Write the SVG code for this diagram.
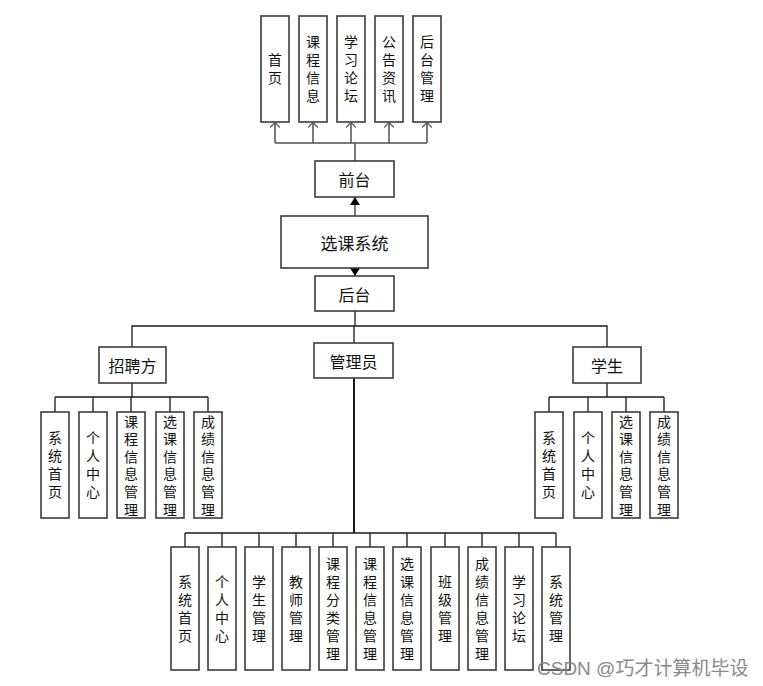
<svg xmlns="http://www.w3.org/2000/svg" width="763" height="686" viewBox="0 0 763 686">
<style>
.box{fill:#fff;stroke:#3c3c3c;stroke-width:1.6}
.t{font-family:"Noto Sans CJK SC","Noto Sans",sans-serif;fill:#111;text-anchor:middle;dominant-baseline:central}
.v{font-family:"Noto Sans CJK SC","Noto Sans",sans-serif;fill:#111;font-size:14px;writing-mode:vertical-rl;text-orientation:upright;letter-spacing:4px;text-anchor:middle}
.h{font-size:16px}
.line{fill:none;stroke:#1a1a1a;stroke-width:1.3}
.gline{fill:none;stroke:#505050;stroke-width:1.5}
.wm{font-family:"Liberation Sans","Noto Sans CJK SC",sans-serif;font-size:19px;fill:#8a8a8a}
</style>
<defs>
<marker id="open" viewBox="0 0 5 10" refX="5" refY="5" markerWidth="5" markerHeight="10" markerUnits="userSpaceOnUse" orient="auto">
<path d="M0,0 L5,5 L0,10" fill="none" stroke="#505050" stroke-width="1.2"/>
</marker>
<marker id="fill" viewBox="0 0 8 10" refX="8" refY="5" markerWidth="8" markerHeight="10" markerUnits="userSpaceOnUse" orient="auto">
<path d="M0,0 L8,5 L0,10 z" fill="#000"/>
</marker>
</defs>
<rect width="763" height="686" fill="#fff"/>

<g id="connectors">
<path class="gline" d="M355,161 V143 M275,143 H427"/>
<path class="gline" d="M275,143 V122.5" marker-end="url(#open)"/>
<path class="gline" d="M313,143 V122.5" marker-end="url(#open)"/>
<path class="gline" d="M351,143 V122.5" marker-end="url(#open)"/>
<path class="gline" d="M389,143 V122.5" marker-end="url(#open)"/>
<path class="gline" d="M427,143 V122.5" marker-end="url(#open)"/>
<path class="gline" d="M355,216 V197" marker-end="url(#fill)"/>
<path class="gline" d="M355,268 V276" marker-end="url(#fill)"/>
<path class="line" d="M355,311 V326 M132,347 V326 H607 V347 M354,326 V343"/>
<path class="line" d="M132,383 V397 M55,397 H208 M55,397 V412 M93,397 V412 M131,397 V412 M170,397 V412 M208,397 V412"/>
<path class="line" d="M607,383 V397 M549,397 H664 M549,397 V412 M588,397 V412 M626,397 V412 M664,397 V412"/>
<path class="line" d="M354,378 V533" style="stroke-width:2"/>
<path class="line" d="M185,533 H556 M185,533 V547 M222,533 V547 M259,533 V547 M296,533 V547 M333,533 V547 M370,533 V547 M407,533 V547 M445,533 V547 M482,533 V547 M519,533 V547 M556,533 V547"/>
</g>

<g id="top-shouye"><rect class="box" x="261" y="16" width="28" height="106"/><text class="v" x="275" y="71">首页</text></g>
<g id="top-kecheng"><rect class="box" x="299" y="16" width="28" height="106"/><text class="v" x="313" y="71">课程信息</text></g>
<g id="top-luntan"><rect class="box" x="337" y="16" width="28" height="106"/><text class="v" x="351" y="71">学习论坛</text></g>
<g id="top-gonggao"><rect class="box" x="375" y="16" width="28" height="106"/><text class="v" x="389" y="71">公告资讯</text></g>
<g id="top-houtai"><rect class="box" x="413" y="16" width="28" height="106"/><text class="v" x="427" y="71">后台管理</text></g>

<g id="qiantai"><rect class="box" x="315" y="161" width="79" height="36"/><text class="t h" x="354.5" y="179">前台</text></g>
<g id="system"><rect class="box" x="281" y="216" width="147" height="52"/><text class="t" style="font-size:17px" x="354.5" y="242">选课系统</text></g>
<g id="houtai"><rect class="box" x="315" y="276" width="79" height="35"/><text class="t h" x="354.5" y="293.5">后台</text></g>

<g id="zhaopin"><rect class="box" x="99" y="347" width="67" height="36"/><text class="t h" x="132.5" y="365">招聘方</text></g>
<g id="admin"><rect class="box" x="314" y="343" width="79" height="35"/><text class="t h" x="353.5" y="360.5">管理员</text></g>
<g id="student"><rect class="box" x="573" y="347" width="68" height="36"/><text class="t h" x="607" y="365">学生</text></g>

<g id="z1"><rect class="box" x="41" y="412" width="28" height="106"/><text class="v" x="55" y="467">系统首页</text></g>
<g id="z2"><rect class="box" x="79" y="412" width="28" height="106"/><text class="v" x="93" y="467">个人中心</text></g>
<g id="z3"><rect class="box" x="117" y="412" width="28" height="106"/><text class="v" x="131" y="467" style="letter-spacing:3.6px">课程信息管理</text></g>
<g id="z4"><rect class="box" x="156" y="412" width="28" height="106"/><text class="v" x="170" y="467" style="letter-spacing:3.6px">选课信息管理</text></g>
<g id="z5"><rect class="box" x="194" y="412" width="28" height="106"/><text class="v" x="208" y="467" style="letter-spacing:3.6px">成绩信息管理</text></g>

<g id="s1"><rect class="box" x="535" y="412" width="28" height="106"/><text class="v" x="549" y="467">系统首页</text></g>
<g id="s2"><rect class="box" x="574" y="412" width="28" height="106"/><text class="v" x="588" y="467">个人中心</text></g>
<g id="s3"><rect class="box" x="612" y="412" width="28" height="106"/><text class="v" x="626" y="467" style="letter-spacing:3.6px">选课信息管理</text></g>
<g id="s4"><rect class="box" x="650" y="412" width="28" height="106"/><text class="v" x="664" y="467" style="letter-spacing:3.6px">成绩信息管理</text></g>

<g id="a1"><rect class="box" x="171" y="547" width="28" height="123"/><text class="v" x="185" y="610.5">系统首页</text></g>
<g id="a2"><rect class="box" x="208" y="547" width="28" height="123"/><text class="v" x="222" y="610.5">个人中心</text></g>
<g id="a3"><rect class="box" x="245" y="547" width="28" height="123"/><text class="v" x="259" y="610.5">学生管理</text></g>
<g id="a4"><rect class="box" x="282" y="547" width="28" height="123"/><text class="v" x="296" y="610.5">教师管理</text></g>
<g id="a5"><rect class="box" x="319" y="547" width="28" height="123"/><text class="v" x="333" y="610.5">课程分类管理</text></g>
<g id="a6"><rect class="box" x="356" y="547" width="28" height="123"/><text class="v" x="370" y="610.5">课程信息管理</text></g>
<g id="a7"><rect class="box" x="393" y="547" width="28" height="123"/><text class="v" x="407" y="610.5">选课信息管理</text></g>
<g id="a8"><rect class="box" x="431" y="547" width="28" height="123"/><text class="v" x="445" y="610.5">班级管理</text></g>
<g id="a9"><rect class="box" x="468" y="547" width="28" height="123"/><text class="v" x="482" y="610.5">成绩信息管理</text></g>
<g id="a10"><rect class="box" x="505" y="547" width="28" height="123"/><text class="v" x="519" y="610.5">学习论坛</text></g>
<g id="a11"><rect class="box" x="542" y="547" width="28" height="123"/><text class="v" x="556" y="610.5">系统管理</text></g>

<text class="wm" x="537" y="675">CSDN @巧才计算机毕设</text>
</svg>
